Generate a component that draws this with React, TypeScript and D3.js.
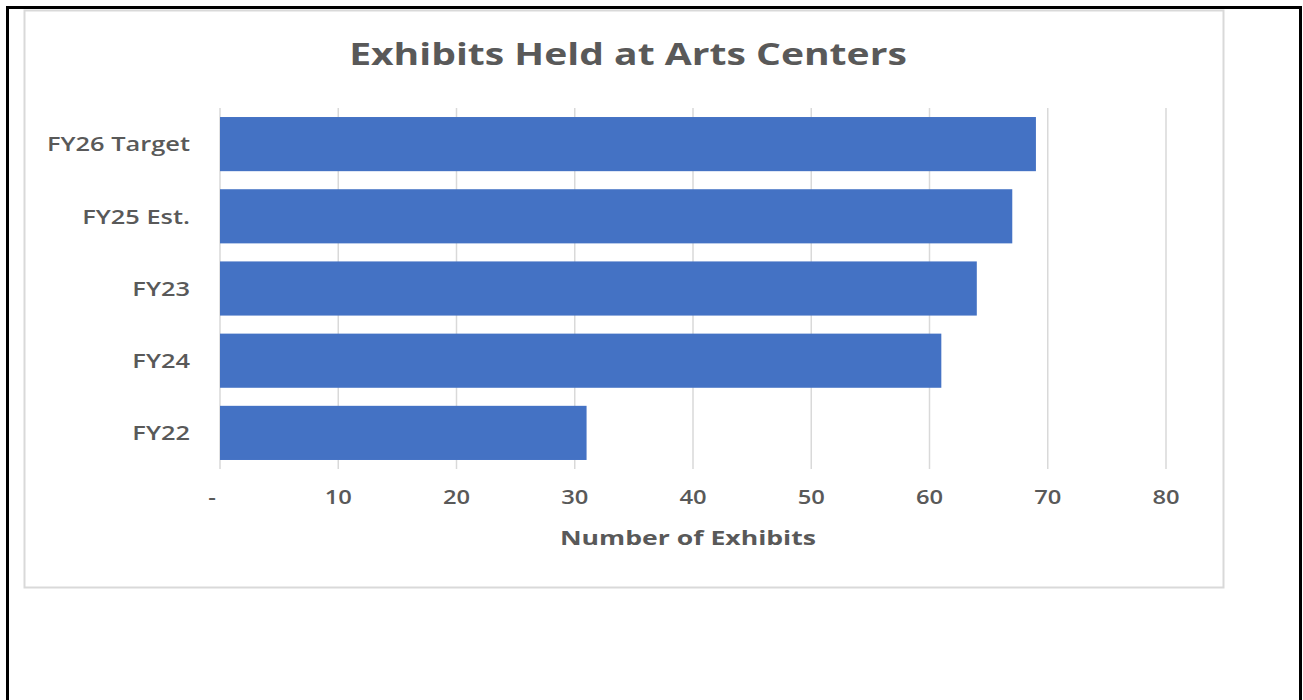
import React, { useEffect, useRef } from "react";
import * as d3 from "d3";

const categories = ["FY26 Target", "FY25 Est.", "FY23", "FY24", "FY22"];
const values = [69, 67, 64, 61, 31];
const tickValues = [0, 10, 20, 30, 40, 50, 60, 70, 80];
const titleText = "Exhibits Held at Arts Centers";
const axisTitle = "Number of Exhibits";

const W = 1303;
const H = 700;
const FONT = "'Open Sans', 'Noto Sans', sans-serif";
const GRAY = "#595959";

function stretch(sel: d3.Selection<SVGTextElement, any, any, any>, factor: number) {
  sel.each(function () {
    const n = this as SVGTextElement;
    const len = n.getComputedTextLength();
    if (len > 0) {
      d3.select(n).attr("textLength", len * factor).attr("lengthAdjust", "spacingAndGlyphs");
    }
  });
}

export default function App() {
  const ref = useRef<SVGSVGElement | null>(null);

  useEffect(() => {
    const svg = d3.select(ref.current);
    svg.selectAll("*").remove();

    svg.append("rect").attr("width", W).attr("height", H).attr("fill", "#fff");
    // outer black border
    svg.append("rect").attr("x", 7.5).attr("y", 7.5).attr("width", 1293).attr("height", 720)
      .attr("fill", "none").attr("stroke", "#000").attr("stroke-width", 3);
    // chart frame
    svg.append("rect").attr("x", 24.5).attr("y", 10.5).attr("width", 1199).attr("height", 577)
      .attr("fill", "#fff").attr("stroke", "#d9d9d9").attr("stroke-width", 2);

    const x = d3.scaleLinear().domain([0, 80]).range([220, 1166]);
    const y = d3.scaleBand<string>().domain(categories).range([108, 469]).paddingInner(0.25).paddingOuter(0.125);

    const g = svg.append("g");
    g.selectAll("line.grid").data(tickValues).join("line")
      .attr("class", "grid")
      .attr("x1", (d) => x(d)).attr("x2", (d) => x(d))
      .attr("y1", 108).attr("y2", 469)
      .attr("stroke", "#d9d9d9").attr("stroke-width", 1.5);

    g.selectAll("rect.bar").data(categories).join("rect")
      .attr("class", "bar")
      .attr("x", x(0))
      .attr("y", (d) => y(d) as number)
      .attr("width", (_d, i) => x(values[i]) - x(0))
      .attr("height", y.bandwidth())
      .attr("fill", "#4472c4");

    const cats = g.selectAll<SVGTextElement, string>("text.cat").data(categories).join("text")
      .attr("class", "cat")
      .attr("x", 190)
      .attr("y", (d) => (y(d) as number) + y.bandwidth() / 2)
      .attr("dy", "0.36em")
      .attr("text-anchor", "end")
      .attr("font-family", FONT).attr("font-size", 20).attr("font-weight", 600).attr("fill", GRAY)
      .text((d) => d);
    stretch(cats, 1.27);

    const ticks = g.selectAll<SVGTextElement, number>("text.tick").data(tickValues).join("text")
      .attr("class", "tick")
      .attr("x", (d) => (d === 0 ? x(d) - 8 : x(d)))
      .attr("y", 497)
      .attr("dy", "0.36em")
      .attr("text-anchor", "middle")
      .attr("font-family", FONT).attr("font-size", 19).attr("font-weight", 600).attr("fill", GRAY)
      .text((d) => (d === 0 ? "-" : d3.format("d")(d)));
    stretch(ticks, 1.25);

    const at = svg.append("text")
      .attr("x", 688).attr("y", 538).attr("dy", "0.36em")
      .attr("text-anchor", "middle")
      .attr("font-family", FONT).attr("font-size", 20).attr("font-weight", "bold").attr("fill", GRAY)
      .text(axisTitle);
    stretch(at as any, 1.33);

    const tt = svg.append("text")
      .attr("x", 628).attr("y", 54).attr("dy", "0.36em")
      .attr("text-anchor", "middle")
      .attr("font-family", FONT).attr("font-size", 31).attr("font-weight", "bold").attr("fill", GRAY)
      .text(titleText);
    stretch(tt as any, 1.26);
  }, []);

  return (
    <svg ref={ref} width={W} height={H} style={{ position: "absolute", left: 0, top: 0, display: "block" }} />
  );
}
